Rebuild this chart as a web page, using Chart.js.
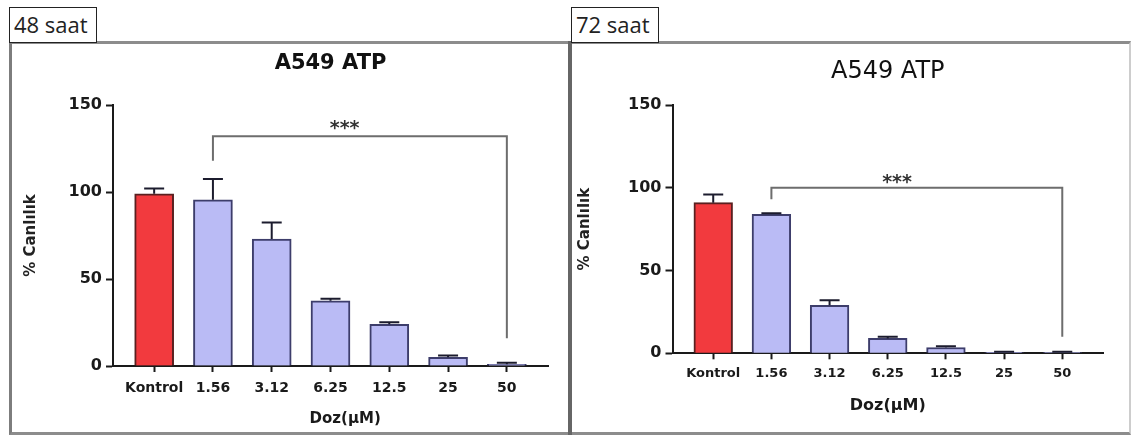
<!DOCTYPE html>
<html>
<head>
<meta charset="utf-8">
<script src="https://cdn.jsdelivr.net/npm/chart.js@4.4.1/dist/chart.umd.min.js"></script>
<style>
html,body{margin:0;padding:0;background:#fff;width:1131px;height:435px;overflow:hidden;position:relative;}
#frame{position:absolute;left:9px;top:41px;width:1122px;height:394px;box-sizing:border-box;border-left:3px solid #7d7d7d;border-top:3px solid #8c8c8c;border-bottom:3px solid #8c8c8c;border-right:2px solid #cdcdcd;}
#divider{position:absolute;left:568px;top:41px;width:4px;height:394px;background:#666;}
.tab{position:absolute;top:7px;height:36px;width:88px;box-sizing:border-box;border:1.5px solid #222;background:#fff;font-family:'Open Sans',sans-serif;font-size:22px;line-height:33px;padding-left:4px;color:#222;z-index:3;white-space:nowrap;}
#w48{position:absolute;left:0;top:0;width:565px;height:435px;z-index:2;}
#w72{position:absolute;left:575px;top:0;width:556px;height:435px;z-index:2;}
</style>
</head>
<body>
<div id="frame"></div>
<div id="divider"></div>
<div class="tab" style="left:9px;">48 saat</div>
<div class="tab" style="left:571px;">72 saat</div>
<div id="w48"><canvas id="c48" width="565" height="435"></canvas></div>
<div id="w72"><canvas id="c72" width="556" height="435"></canvas></div>
<script>
// ---- data ----
const categories = ['Kontrol', '1.56', '3.12', '6.25', '12.5', '25', '50'];
const yTickValues = [0, 50, 100, 150];
const viability48 = [99, 95.5, 73, 37.5, 24, 5, 1];
const sem48 = [3, 12, 9.5, 1.2, 1.2, 1, 0.8];
const viability72 = [91, 84, 29, 9, 3.5, 0.6, 0.5];
const sem72 = [5, 0.6, 3, 1, 0.8, 0.4, 0.4];
// bracket: [from index, to index, level, left end, right end]
const bracket48 = [1, 6, 132, 118, 16];
const bracket72 = [1, 6, 100, 93, 10];
// significance label: [x value, y value]
const stars48 = [3.24, 140];
const stars72 = [3.16, 107];
const chartTitle = 'A549 ATP';
const yTitle = '% Canlılık';
const xTitleText = 'Doz(µM)';
const sigText = '***';

// ---- styles ----
const RED = '#f23a3e', RED_EDGE = '#5a2020';
const LAV = '#babbf5', LAV_EDGE = '#3d3d6b';
const INK = '#1a1a1a';
const FONT = "'DejaVu Sans', sans-serif";

const errorBars = {
  id: 'errorBars',
  afterDatasetsDraw(chart, args, o) {
    const {ctx, scales: {x, y}} = chart;
    ctx.save();
    ctx.strokeStyle = o.color; ctx.lineWidth = o.width;
    o.means.forEach((m, i) => {
      const px = x.getPixelForValue(i);
      const y0 = y.getPixelForValue(m);
      const y1 = y.getPixelForValue(m + o.errs[i]);
      ctx.beginPath();
      ctx.moveTo(px, y0); ctx.lineTo(px, y1);
      ctx.moveTo(px - o.cap, y1); ctx.lineTo(px + o.cap, y1);
      ctx.stroke();
    });
    ctx.restore();
  }
};

const sigBracket = {
  id: 'sigBracket',
  afterDatasetsDraw(chart, args, o) {
    const {ctx, scales: {x, y}} = chart;
    const [a, b, lvl, endA, endB] = o.bracket;
    ctx.save();
    ctx.strokeStyle = o.color; ctx.lineWidth = o.width;
    ctx.beginPath();
    ctx.moveTo(x.getPixelForValue(a), y.getPixelForValue(endA));
    ctx.lineTo(x.getPixelForValue(a), y.getPixelForValue(lvl));
    ctx.lineTo(x.getPixelForValue(b), y.getPixelForValue(lvl));
    ctx.lineTo(x.getPixelForValue(b), y.getPixelForValue(endB));
    ctx.stroke();
    ctx.fillStyle = o.textColor;
    ctx.font = 'bold ' + o.size + 'px ' + FONT;
    ctx.textAlign = 'center'; ctx.textBaseline = 'alphabetic';
    ctx.fillText(o.text, x.getPixelForValue(o.label[0]), y.getPixelForValue(o.label[1]) + o.size * 0.6);
    ctx.restore();
  }
};

const xTitle = {
  id: 'xTitle',
  afterDraw(chart, args, o) {
    const {ctx, scales: {x}} = chart;
    ctx.save();
    ctx.fillStyle = INK;
    ctx.font = 'bold ' + o.size + 'px ' + FONT;
    ctx.textAlign = 'center'; ctx.textBaseline = 'middle';
    ctx.fillText(o.text, x.getPixelForValue(o.at), x.top + o.gap);
    ctx.restore();
  }
};

function makeChart(id, means, errs, bracket, stars, L) {
  return new Chart(document.getElementById(id), {
    type: 'bar',
    data: {
      datasets: [{
        data: means.map((m, i) => ({x: i, y: m})),
        backgroundColor: c => c.dataIndex === 0 ? RED : LAV,
        borderColor: c => c.dataIndex === 0 ? RED_EDGE : LAV_EDGE,
        borderWidth: 2,
        barThickness: L.bar
      }]
    },
    options: {
      responsive: false, animation: false, devicePixelRatio: 1,
      layout: {padding: {left: L.padL, right: L.padR, top: L.padT, bottom: 0}},
      plugins: {
        legend: {display: false}, tooltip: {enabled: false},
        title: {display: true, text: chartTitle, fullSize: false, color: '#111',
          font: {family: FONT, size: L.titleSize, weight: L.titleWeight, lineHeight: 1.2},
          padding: {top: 0, bottom: L.titleGap}},
        errorBars: {means: means, errs: errs, color: '#1c1c2e', width: 2, cap: 10},
        sigBracket: {bracket: bracket, label: stars, text: sigText, color: '#6d6d6d', width: 2, textColor: '#333', size: 19},
        xTitle: {text: xTitleText, at: L.xTitleAt, gap: 53, size: L.xTitleSize}
      },
      scales: {
        x: {
          type: 'linear', min: -0.7, max: 6.7, offset: false, z: 1,
          afterFit: s => { s.height = L.xH; },
          afterBuildTicks: s => { s.ticks = categories.map((c, i) => ({value: i})); },
          grid: {display: true, offset: false, drawOnChartArea: false, drawTicks: true, tickLength: 6, tickWidth: 2, tickColor: INK},
          border: {display: true, color: INK, width: 2},
          ticks: {callback: v => categories[v], autoSkip: false, maxRotation: 0, padding: L.xPad, color: INK,
            font: {family: FONT, size: L.xFont, weight: 'bold'}}
        },
        y: {
          min: 0, max: 150, z: 1,
          afterFit: s => { s.width = L.yW; },
          afterBuildTicks: s => { s.ticks = yTickValues.map(v => ({value: v})); },
          grid: {display: true, drawOnChartArea: false, drawTicks: true, tickLength: 7, tickWidth: 2, tickColor: INK},
          border: {display: true, color: INK, width: 2},
          ticks: {padding: L.yPad, color: INK, font: {family: FONT, size: 16, weight: 'bold'}},
          title: {display: true, text: yTitle, color: '#222', font: {family: FONT, size: 15, weight: 'bold'},
            padding: {top: L.yTitlePad, bottom: 0}}
        }
      }
    },
    plugins: [errorBars, sigBracket, xTitle]
  });
}

makeChart('c48', viability48, sem48, bracket48, stars48, {
  padL: 13, yW: 100, padR: 17, padT: 51, titleSize: 21, titleWeight: 'bold', titleGap: 28.8,
  xH: 69, xPad: 8, xFont: 14, bar: 39, yPad: 4, yTitlePad: 9.5, xTitleAt: 3.25, xTitleSize: 15
});
makeChart('c72', viability72, sem72, bracket72, stars72, {
  padL: 0, yW: 97.5, padR: 28, padT: 57.7, titleSize: 24, titleWeight: 'normal', titleGap: 18.5,
  xH: 81.7, xPad: 7, xFont: 13, bar: 38.7, yPad: 4, yTitlePad: 1.5, xTitleAt: 3.0, xTitleSize: 16
});
</script>
</body>
</html>
